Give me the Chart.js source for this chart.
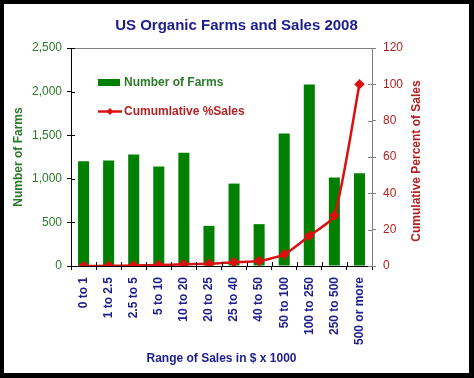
<!DOCTYPE html>
<html>
<head>
<meta charset="utf-8">
<script src="https://cdn.jsdelivr.net/npm/chart.js@4.4.0/dist/chart.umd.min.js"></script>
<style>
    html, body { margin: 0; padding: 0; background: #fff; }
    #frame {
        position: absolute; left: 0; top: 0;
        width: 474px; height: 378px;
        box-sizing: border-box;
        border-style: solid; border-color: #000;
        border-width: 4px 5px 5px 4px;
    }
    #chartBox { width: 465px; height: 369px; }
</style>
</head>
<body>
<div id="frame"><div id="chartBox"><canvas id="farmsChart"></canvas></div></div>
<script>
var categories = ["0 to 1", "1 to 2.5", "2.5 to 5", "5 to 10", "10 to 20", "20 to 25",
    "25 to 40", "40 to 50", "50 to 100", "100 to 250", "250 to 500", "500 or more"];
var number_of_farms = [1200, 1210, 1280, 1140, 1300, 460, 945, 480, 1520, 2080, 1015, 1065];
var cumulative_sales = [0, 0.1, 0.3, 0.5, 1.0, 1.2, 2.1, 2.8, 6.4, 16.6, 27.8, 100];
var farms_ticks = [0, 500, 1000, 1500, 2000, 2500];
var percent_ticks = [0, 20, 40, 60, 80, 100, 120];

var FONT = "'Liberation Sans', Arial, sans-serif";
var GREEN = "#008000";
var GREEN_TEXT = "#2a7a2a";
var RED = "#dc1010";
var RED_TEXT = "#b22222";
var NAVY = "#1c1c8c";

// legend drawn inside the plot, crossing ticks, top border, right axis title
var extrasPlugin = {
    id: "extras",
    afterDraw: function (chart) {
        var ctx = chart.ctx;
        var area = chart.chartArea;
        var sy = chart.scales.y, sy1 = chart.scales.y1;
        ctx.save();

        // top border of the plot
        ctx.strokeStyle = "#808080";
        ctx.lineWidth = 1;
        ctx.beginPath();
        ctx.moveTo(area.left, area.top + 0.5);
        ctx.lineTo(area.right, area.top + 0.5);
        ctx.stroke();

        // inner half of the crossing ticks
        ctx.strokeStyle = "#000";
        sy.ticks.forEach(function (t, i) {
            var py = Math.round(sy.getPixelForTick(i)) + 0.5;
            ctx.beginPath(); ctx.moveTo(area.left, py); ctx.lineTo(area.left + 4, py); ctx.stroke();
        });
        ctx.strokeStyle = "#808080";
        sy1.ticks.forEach(function (t, i) {
            var py = Math.round(sy1.getPixelForTick(i)) + 0.5;
            ctx.beginPath(); ctx.moveTo(area.right - 4, py); ctx.lineTo(area.right, py); ctx.stroke();
        });
        ctx.strokeStyle = "#000";
        var step = (area.right - area.left) / categories.length;
        for (var i = 1; i < categories.length; i++) {
            var px = Math.round(area.left + step * i) + 0.5;
            ctx.beginPath(); ctx.moveTo(px, area.bottom); ctx.lineTo(px, area.bottom - 4); ctx.stroke();
        }

        // right axis title, reading bottom to top
        ctx.font = "bold 12px " + FONT;
        ctx.fillStyle = RED_TEXT;
        ctx.textAlign = "center";
        ctx.textBaseline = "middle";
        ctx.translate(413, (area.top + area.bottom) / 2 + 4);
        ctx.rotate(-Math.PI / 2);
        ctx.fillText("Cumulative Percent of Sales", 0, 0);
        ctx.restore();

        // legend
        var bars = chart.data.datasets[0];
        var line = chart.data.datasets[1];
        ctx.save();
        ctx.font = "bold 12px " + FONT;
        ctx.textAlign = "left";
        ctx.textBaseline = "middle";
        ctx.fillStyle = bars.backgroundColor;
        ctx.fillRect(94, 75, 22, 7);
        ctx.fillStyle = GREEN_TEXT;
        ctx.fillText(bars.label, 120, 78.5);

        ctx.strokeStyle = line.borderColor;
        ctx.lineWidth = 2.5;
        ctx.beginPath(); ctx.moveTo(94, 107.5); ctx.lineTo(118, 107.5); ctx.stroke();
        ctx.fillStyle = line.borderColor;
        ctx.beginPath();
        ctx.moveTo(106, 104); ctx.lineTo(109.5, 107.5); ctx.lineTo(106, 111); ctx.lineTo(102.5, 107.5);
        ctx.closePath(); ctx.fill();
        ctx.fillStyle = RED_TEXT;
        ctx.fillText(line.label, 120, 108);
        ctx.restore();
    }
};

var ctx = document.getElementById("farmsChart").getContext("2d");
new Chart(ctx, {
    type: "bar",
    data: {
        labels: categories,
        datasets: [
            {
                label: "Number of Farms",
                data: number_of_farms,
                yAxisID: "y",
                backgroundColor: GREEN,
                categoryPercentage: 1,
                barPercentage: 0.44,
                order: 1,
            },
            {
                type: "line",
                label: "Cumumlative %Sales",
                data: cumulative_sales,
                yAxisID: "y1",
                borderColor: RED,
                backgroundColor: RED,
                borderWidth: 2.5,
                tension: 0.2,
                pointStyle: "rectRot",
                pointRadius: 3.5,
                pointHoverRadius: 3.5,
                order: 0,
            },
        ],
    },
    options: {
        responsive: true,
        maintainAspectRatio: false,
        animation: false,
        layout: { padding: { left: 0, right: 0, top: 0, bottom: 4 } },
        plugins: {
            legend: { display: false },
            tooltip: { enabled: false },
            title: {
                display: true,
                text: "US Organic Farms and Sales 2008",
                color: NAVY,
                font: { family: FONT, size: 15, weight: "bold" },
                padding: { top: 13, bottom: 13 },
            },
        },
        scales: {
            x: {
                afterFit: function (scale) { scale.height = 103; },
                grid: { drawOnChartArea: false, tickLength: 4, color: "#000" },
                border: { color: "#000" },
                ticks: {
                    autoSkip: false,
                    minRotation: 90,
                    maxRotation: 90,
                    padding: 7,
                    color: NAVY,
                    font: { family: FONT, size: 12, weight: "bold" },
                },
                title: {
                    display: true,
                    text: "Range of Sales in $ x 1000",
                    color: NAVY,
                    font: { family: FONT, size: 12, weight: "bold" },
                    padding: { top: 0, bottom: 3 },
                },
            },
            y: {
                position: "left",
                min: 0,
                max: 2500,
                afterFit: function (scale) { scale.width = 67; },
                afterBuildTicks: function (scale) {
                    scale.ticks = farms_ticks.map(function (v) { return { value: v }; });
                },
                grid: { drawOnChartArea: false, tickLength: 4, color: "#000" },
                border: { color: "#000" },
                ticks: {
                    padding: 5,
                    color: GREEN_TEXT,
                    font: { family: FONT, size: 12 },
                    callback: function (v) { return v.toLocaleString("en-US"); },
                },
                title: {
                    display: true,
                    text: "Number of Farms",
                    color: GREEN_TEXT,
                    font: { family: FONT, size: 12, weight: "bold" },
                    padding: { top: 7, bottom: 0 },
                },
            },
            y1: {
                position: "right",
                min: 0,
                max: 120,
                afterFit: function (scale) { scale.width = 97; },
                afterBuildTicks: function (scale) {
                    scale.ticks = percent_ticks.map(function (v) { return { value: v }; });
                },
                grid: { drawOnChartArea: false, tickLength: 4, color: "#808080" },
                border: { color: "#808080" },
                ticks: {
                    padding: 7,
                    color: RED_TEXT,
                    font: { family: FONT, size: 12 },
                },
            },
        },
    },
    plugins: [extrasPlugin],
});
</script>
</body>
</html>
